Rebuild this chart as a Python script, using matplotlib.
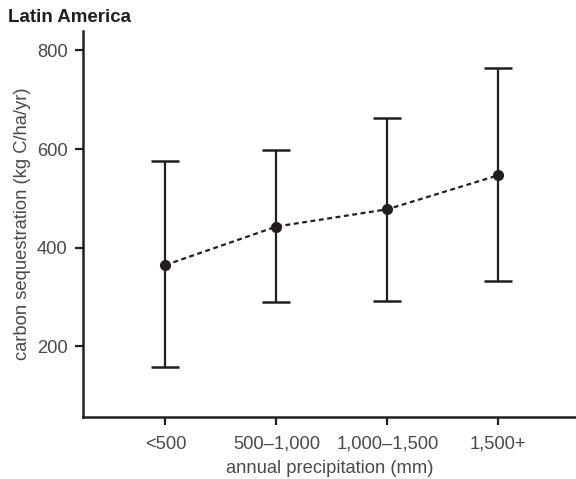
import matplotlib
matplotlib.use("Agg")
import matplotlib.pyplot as plt

categories = ["<500", "500\u20131,000", "1,000\u20131,500", "1,500+"]
means = [365, 443, 478, 547]
lower = [158, 291, 292, 333]
upper = [576, 599, 664, 764]

plt.rcParams['font.family'] = ['Liberation Sans', 'DejaVu Sans']
ink = "#231f20"
txt = "#4a4a4a"

fig = plt.figure(figsize=(5.76, 4.79), dpi=100)
ax = fig.add_axes([0.1436, 0.1294, 0.8564, 0.8066])

x = list(range(len(categories)))
yerr = [[m - l for m, l in zip(means, lower)], [u - m for m, u in zip(means, upper)]]
ax.errorbar(x, means, yerr=yerr, fmt='none', ecolor=ink, elinewidth=1.6,
            capsize=10, capthick=1.8, zorder=2)
ax.plot(x, means, color=ink, linestyle=(0, (2.2, 1.6)), linewidth=1.6, zorder=3)
ax.plot(x, means, 'o', color=ink, markersize=7, zorder=4)

ax.set_xlim(-0.745, 3.70)
ax.set_ylim(57, 840)
ax.set_yticks([200, 400, 600, 800])
ax.set_xticks(x)
ax.set_xticklabels(categories)

for s in ['top', 'right']:
    ax.spines[s].set_visible(False)
for s in ['left', 'bottom']:
    ax.spines[s].set_linewidth(1.8)
    ax.spines[s].set_color(ink)

ax.tick_params(axis='both', direction='out', length=6, width=1.6, color=ink,
               labelsize=13.2, labelcolor=txt, pad=5)
ax.tick_params(axis='x', pad=7.5)

ax.set_xlabel("annual precipitation (mm)", fontsize=13.2, color=txt, labelpad=5)
ax.set_ylabel("carbon sequestration (kg C/ha/yr)", fontsize=13.2, color=txt, labelpad=4)
fig.text(0.014, 0.964, "Latin America", fontsize=13.5, fontweight='bold',
         color=ink, ha='left', va='center')

fig.savefig("out.png", dpi=100)
